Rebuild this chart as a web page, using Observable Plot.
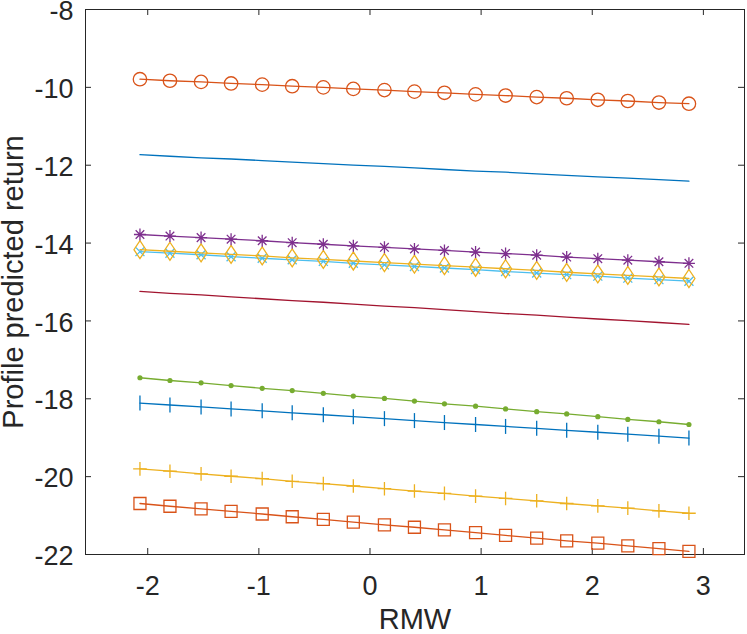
<!DOCTYPE html>
<html><head><meta charset="utf-8">
<script src="https://cdn.jsdelivr.net/npm/d3@7"></script>
<script src="https://cdn.jsdelivr.net/npm/@observablehq/plot@0.6"></script>
<style>body{margin:0;background:#fff}#chart svg{display:block}</style>
</head><body><div id="chart"></div>
<script>
const rmw = [-2.07,-1.80,-1.52,-1.25,-0.97,-0.70,-0.42,-0.15,0.13,0.40,0.67,0.95,1.22,1.50,1.77,2.05,2.32,2.60,2.87];
const seriesCircle = [-9.79,-9.83,-9.86,-9.90,-9.93,-9.97,-10.00,-10.04,-10.07,-10.11,-10.14,-10.18,-10.21,-10.25,-10.28,-10.32,-10.35,-10.39,-10.42];
const seriesBlueLine = [-11.73,-11.77,-11.81,-11.84,-11.88,-11.92,-11.96,-12.00,-12.03,-12.07,-12.11,-12.15,-12.18,-12.22,-12.26,-12.30,-12.33,-12.37,-12.41];
const seriesAsterisk = [-13.78,-13.82,-13.86,-13.90,-13.94,-13.99,-14.03,-14.07,-14.11,-14.15,-14.19,-14.23,-14.27,-14.31,-14.36,-14.40,-14.44,-14.48,-14.52];
const seriesDiamond = [-14.17,-14.21,-14.25,-14.29,-14.33,-14.38,-14.42,-14.46,-14.50,-14.54,-14.58,-14.62,-14.66,-14.70,-14.75,-14.79,-14.83,-14.87,-14.91];
const seriesCross = [-14.22,-14.26,-14.30,-14.35,-14.39,-14.43,-14.47,-14.52,-14.56,-14.60,-14.64,-14.68,-14.73,-14.77,-14.81,-14.85,-14.90,-14.94,-14.98];
const seriesRedLine = [-15.24,-15.29,-15.33,-15.38,-15.43,-15.48,-15.52,-15.57,-15.62,-15.66,-15.71,-15.76,-15.81,-15.85,-15.90,-15.95,-15.99,-16.04,-16.09];
const seriesGreenDot = [-17.46,-17.53,-17.59,-17.66,-17.73,-17.79,-17.86,-17.93,-17.99,-18.06,-18.13,-18.19,-18.26,-18.33,-18.39,-18.46,-18.53,-18.59,-18.66];
const seriesBar = [-18.11,-18.16,-18.21,-18.26,-18.31,-18.36,-18.41,-18.46,-18.51,-18.56,-18.61,-18.66,-18.71,-18.76,-18.81,-18.86,-18.91,-18.96,-19.01];
const seriesPlus = [-19.80,-19.86,-19.93,-19.99,-20.05,-20.12,-20.18,-20.24,-20.31,-20.37,-20.43,-20.50,-20.56,-20.62,-20.69,-20.75,-20.81,-20.88,-20.94];
const seriesSquare = [-20.69,-20.76,-20.83,-20.89,-20.96,-21.03,-21.10,-21.17,-21.24,-21.30,-21.37,-21.44,-21.51,-21.58,-21.65,-21.71,-21.78,-21.85,-21.92];
const xTicks = [-2,-1,0,1,2,3];
const yTicks = [-22,-20,-18,-16,-14,-12,-10,-8];
const xDomain = [-2.56, 3.37];
const yDomain = [-22, -8];
const xLabel = "RMW";
const yLabel = "Profile predicted return";

const rows = ys => rmw.map((x, i) => ({x, y: ys[i]}));

const symCircle = {draw(c){ c.moveTo(6.7,0); c.arc(0,0,6.7,0,2*Math.PI); c.closePath(); }};
const symSquare = {draw(c){ c.rect(-6,-6,12,12); }};
const symDiamond = {draw(c){ c.moveTo(0,-9); c.lineTo(6,0); c.lineTo(0,9); c.lineTo(-6,0); c.closePath(); }};
const symAsterisk = {draw(c){ const r=6, d=4.3;
  c.moveTo(-r,0); c.lineTo(r,0); c.moveTo(0,-r); c.lineTo(0,r);
  c.moveTo(-d,-d); c.lineTo(d,d); c.moveTo(-d,d); c.lineTo(d,-d); }};
const symTimes = {draw(c){ const d=4.5; c.moveTo(-d,-d); c.lineTo(d,d); c.moveTo(-d,d); c.lineTo(d,-d); }};
const symPlus = {draw(c){ const r=6.8; c.moveTo(-r,0); c.lineTo(r,0); c.moveTo(0,-r); c.lineTo(0,r); }};
const symBar = {draw(c){ c.moveTo(0,-7.5); c.lineTo(0,7.5); }};

const sw = 1.3;
function series(ys, color, symbol, opts = {}) {
  const data = rows(ys);
  const marks = [Plot.line(data, {x: "x", y: "y", stroke: color, strokeWidth: sw})];
  if (symbol) marks.push(Plot.dot(data, {x: "x", y: "y", symbol, r: 5, stroke: color, fill: "none", strokeWidth: sw, ...opts}));
  return marks;
}

const axisColor = "#262626";
const tkX = 6 * (xDomain[1] - xDomain[0]) / (747 - 85 - 3);
const tkY = 6 * (yDomain[1] - yDomain[0]) / (634 - 9 - 80);
const fmt = d => String(d);

const chart = Plot.plot({
  width: 747,
  height: 634,
  marginLeft: 85,
  marginRight: 3,
  marginTop: 9,
  marginBottom: 80,
  style: {fontFamily: "'Liberation Sans', Arial, Helvetica, sans-serif", color: axisColor, background: "#fff"},
  x: {domain: xDomain, ticks: xTicks},
  y: {domain: yDomain, ticks: yTicks},
  marks: [
    Plot.frame({stroke: axisColor, strokeWidth: 1}),
    Plot.ruleX(xTicks, {y1: yDomain[0], y2: yDomain[0] + tkY, stroke: axisColor}),
    Plot.ruleX(xTicks, {y1: yDomain[1], y2: yDomain[1] - tkY, stroke: axisColor}),
    Plot.ruleY(yTicks, {x1: xDomain[0], x2: xDomain[0] + tkX, stroke: axisColor}),
    Plot.ruleY(yTicks, {x1: xDomain[1], x2: xDomain[1] - tkX, stroke: axisColor}),
    Plot.axisX(xTicks, {tickSize: 0, tickPadding: 21, fontSize: 27, label: null, fill: axisColor, tickFormat: fmt}),
    Plot.axisY(yTicks, {tickSize: 0, tickPadding: 12, dy: 2, fontSize: 27, label: null, fill: axisColor, tickFormat: fmt}),
    Plot.text([xLabel], {text: d => d, frameAnchor: "bottom", dy: 65, textAnchor: "middle", lineAnchor: "middle", fontSize: 29, fill: axisColor}),
    Plot.text([yLabel], {text: d => d, frameAnchor: "left", dx: -72, rotate: -90, textAnchor: "middle", lineAnchor: "middle", fontSize: 29, fill: axisColor}),
    ...series(seriesBlueLine, "#0072BD", null),
    ...series(seriesRedLine, "#A2142F", null),
    ...series(seriesGreenDot, "#77AC30", null),
    Plot.dot(rows(seriesGreenDot), {x: "x", y: "y", r: 2.6, fill: "#77AC30", stroke: "none"}),
    ...series(seriesBar, "#0072BD", symBar),
    ...series(seriesPlus, "#EDB120", symPlus),
    ...series(seriesSquare, "#D95319", symSquare),
    ...series(seriesCross, "#4DBEEE", symTimes),
    ...series(seriesDiamond, "#EDB120", symDiamond),
    ...series(seriesAsterisk, "#7E2F8E", symAsterisk),
    ...series(seriesCircle, "#D95319", symCircle)
  ]
});
document.getElementById("chart").append(chart);
</script>
</body></html>
